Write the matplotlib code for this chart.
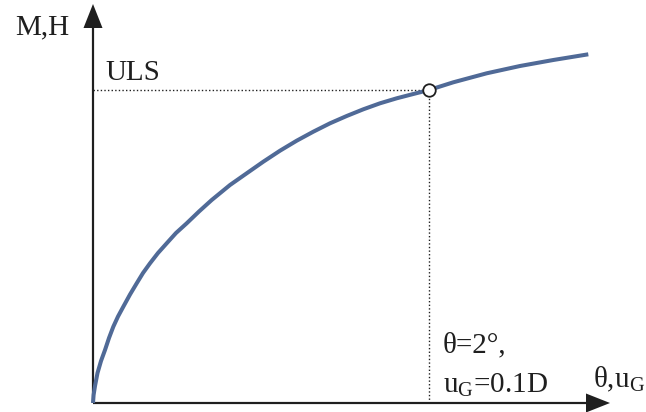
"""
Curva M,H x θ,u_G com o ponto de ULS marcado (θ = 2°, u_G = 0.1D).
"""

import matplotlib
matplotlib.use("Agg")
import matplotlib.pyplot as plt
from matplotlib.patches import FancyArrow

plt.rcParams["font.family"] = "Liberation Serif"
plt.rcParams["mathtext.fontset"] = "custom"
plt.rcParams["mathtext.rm"] = "Liberation Serif"
plt.rcParams["mathtext.it"] = "Liberation Serif"

COR_CURVA = "#506a97"
COR_EIXO = "#1f1f1f"

# curva (unidades arbitrárias, origem no canto dos eixos)
rot = [0, 0.6, 2, 4.5, 8, 12, 16, 20.3, 25, 30.3, 37, 43.7, 50, 57, 65,
       73.7, 83, 93.7, 106, 118.7, 137, 153.7, 170.3, 187, 203.7, 220.3,
       237, 253.7, 270.3, 287, 303.7, 320.3, 336, 360.3, 393.7, 427, 460.3,
       495.3]
esf = [0, 8, 17, 30, 42, 53, 65, 76.3, 86.5, 96.3, 108.5, 119.7, 130, 139.7,
       150, 159.7, 170, 179.7, 191.5, 203, 218, 229.7, 241.3, 252.3, 262.3,
       271.3, 279.7, 287, 293.7, 299.7, 304.7, 309, 313, 320.7, 329.7, 337,
       343, 348.7]

# ponto ULS
uls_x = 336
uls_y = 313

fig = plt.figure(figsize=(6.46, 4.12), dpi=100)
ax = fig.add_axes([0, 0, 1, 1])
ax.set_xlim(-93, 553)
ax.set_ylim(-9, 403)
ax.axis("off")

# eixos com seta
ax.add_patch(FancyArrow(0, 0, 0, 399, width=2.2, head_width=19, head_length=24,
                        length_includes_head=True, color=COR_EIXO, lw=0))
ax.add_patch(FancyArrow(0, 0, 517, 0, width=2.2, head_width=19, head_length=24,
                        length_includes_head=True, color=COR_EIXO, lw=0))

# linhas de chamada pontilhadas até o ponto ULS
ax.plot([0, uls_x], [uls_y, uls_y], color=COR_EIXO, lw=1, ls=(0, (1, 1.6)))
ax.plot([uls_x, uls_x], [0, uls_y], color=COR_EIXO, lw=1, ls=(0, (1, 1.6)))

ax.plot(rot, esf, color=COR_CURVA, lw=2.9, solid_capstyle="butt",
        solid_joinstyle="round", zorder=3)
ax.plot([uls_x], [uls_y], marker="o", ms=9, mfc="white", mec=COR_EIXO,
        mew=1.3, zorder=4)

fs = 21
ax.text(-78, 369, "M,H", fontsize=fs, color=COR_EIXO, va="baseline")
ax.text(12, 323, "ULS", fontsize=fs, color=COR_EIXO, va="baseline")
ax.text(350, 51, "θ=2°,", fontsize=fs, color=COR_EIXO, va="baseline")
ax.text(350, 10, r"u$_{\mathrm{G}}$=0.1D", fontsize=fs, color=COR_EIXO,
        va="baseline")
ax.text(500, 16, r"θ,u$_{\mathrm{G}}$", fontsize=fs, color=COR_EIXO,
        va="baseline")

fig.savefig("out.png", dpi=100)
